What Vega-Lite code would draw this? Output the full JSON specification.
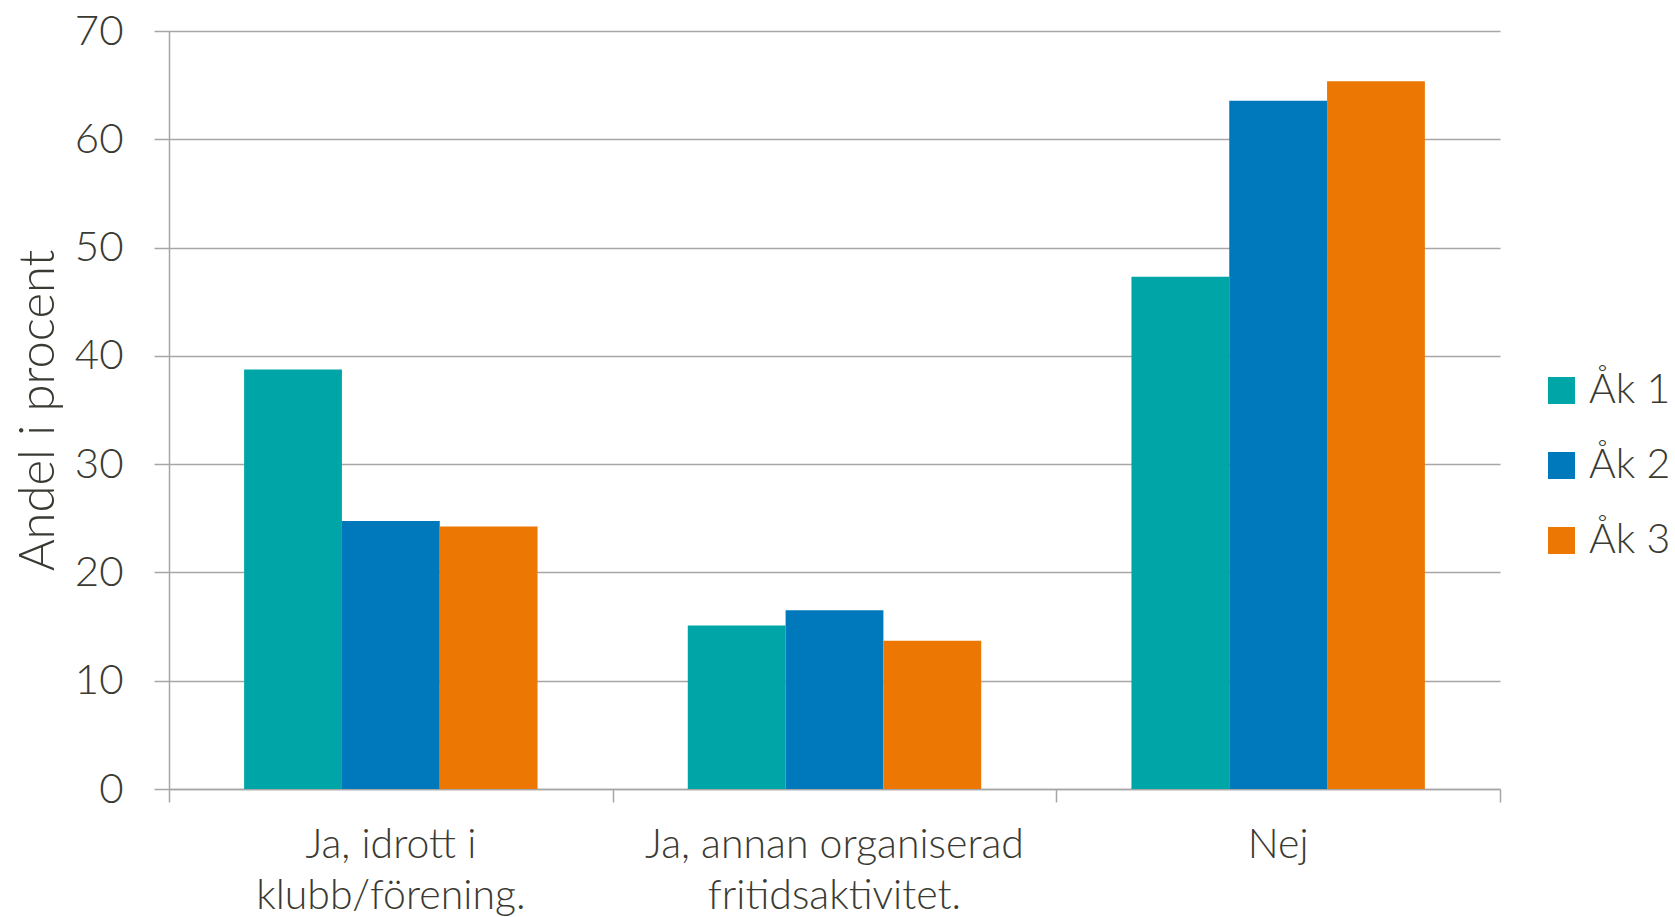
{
  "$schema": "https://vega.github.io/schema/vega-lite/v6.json",
  "width": 1331,
  "height": 758,
  "autosize": {"type": "none"},
  "padding": {"left": 169, "top": 31, "right": 175, "bottom": 128},
  "background": "white",
  "data": {
    "values": [
      {"svar": "Ja, idrott i klubb/förening.", "ak": "Åk 1", "andel": 38.75},
      {"svar": "Ja, idrott i klubb/förening.", "ak": "Åk 2", "andel": 24.75},
      {"svar": "Ja, idrott i klubb/förening.", "ak": "Åk 3", "andel": 24.25},
      {"svar": "Ja, annan organiserad fritidsaktivitet.", "ak": "Åk 1", "andel": 15.1},
      {"svar": "Ja, annan organiserad fritidsaktivitet.", "ak": "Åk 2", "andel": 16.5},
      {"svar": "Ja, annan organiserad fritidsaktivitet.", "ak": "Åk 3", "andel": 13.7},
      {"svar": "Nej", "ak": "Åk 1", "andel": 47.3},
      {"svar": "Nej", "ak": "Åk 2", "andel": 63.55},
      {"svar": "Nej", "ak": "Åk 3", "andel": 65.35}
    ]
  },
  "encoding": {
    "xOffset": {
      "field": "ak",
      "type": "nominal",
      "sort": ["Åk 1", "Åk 2", "Åk 3"],
      "scale": {"paddingInner": 0, "paddingOuter": 0.768}
    },
    "y": {
      "field": "andel",
      "type": "quantitative",
      "scale": {"domain": [0, 70], "nice": false},
      "axis": {
        "title": "Andel i procent",
        "titleFont": "Lato",
        "titleFontSize": 49,
        "titleFontWeight": 300,
        "titleColor": "#3a3a33",
        "titleX": -116,
        "titleY": 379,
        "titleAngle": -90,
        "titleAlign": "center",
        "titleBaseline": "alphabetic",
        "values": [0, 10, 20, 30, 40, 50, 60, 70],
        "labelFont": "Lato",
        "labelFontSize": 42,
        "labelFontWeight": 300,
        "labelColor": "#3a3a33",
        "labelPadding": 31,
        "domainColor": "#a6a6a6",
        "domainWidth": 1.5,
        "tickColor": "#a6a6a6",
        "tickWidth": 1.5,
        "tickSize": 15,
        "grid": true,
        "gridColor": "#a6a6a6",
        "gridWidth": 1.5
      }
    }
  },
  "layer": [
    {
      "mark": {"type": "bar", "opacity": 0},
      "encoding": {
        "x": {
          "field": "svar",
          "type": "nominal",
          "sort": ["Ja, idrott i klubb/förening.", "Ja, annan organiserad fritidsaktivitet.", "Nej"],
          "scale": {"paddingInner": 0, "paddingOuter": 0},
          "axis": {
            "orient": "bottom",
            "title": null,
            "labels": false,
            "domainColor": "#a6a6a6",
            "domainWidth": 1.5,
            "tickColor": "#a6a6a6",
            "tickWidth": 1.5,
            "tickSize": 13,
            "tickBand": "extent",
            "grid": false
          }
        }
      }
    },
    {
      "mark": {"type": "bar"},
      "encoding": {
        "x": {
          "field": "svar",
          "type": "nominal",
          "sort": ["Ja, idrott i klubb/förening.", "Ja, annan organiserad fritidsaktivitet.", "Nej"],
          "axis": {
            "orient": "bottom",
            "title": null,
            "labelAngle": 0,
            "labelFont": "Lato",
            "labelFontSize": 41,
            "labelFontWeight": 300,
            "labelColor": "#3a3a33",
            "labelPadding": 36,
            "labelLineHeight": 51,
            "labelBaseline": "top",
            "labelLimit": 800,
            "labelExpr": "datum.value == 'Nej' ? 'Nej' : (datum.value == 'Ja, idrott i klubb/förening.' ? ['Ja, idrott i', 'klubb/förening.'] : ['Ja, annan organiserad', 'fritidsaktivitet.'])",
            "domain": false,
            "ticks": false,
            "grid": false
          }
        },
        "color": {
          "field": "ak",
          "type": "nominal",
          "sort": ["Åk 1", "Åk 2", "Åk 3"],
          "scale": {"domain": ["Åk 1", "Åk 2", "Åk 3"], "range": ["#00a5a8", "#0078bc", "#ec7703"]},
          "legend": {
            "title": null,
            "orient": "none",
            "legendX": 1372,
            "legendY": 339,
            "padding": 0,
            "symbolType": "square",
            "symbolSize": 729,
            "symbolStrokeWidth": 0,
            "symbolOpacity": 1,
            "labelFont": "Lato",
            "labelFontSize": 41,
            "labelFontWeight": 300,
            "labelColor": "#3a3a33",
            "labelOffset": 7,
            "rowPadding": 33,
            "labelLimit": 300
          }
        }
      }
    }
  ],
  "resolve": {"axis": {"x": "independent"}},
  "config": {"view": {"stroke": null}}
}
